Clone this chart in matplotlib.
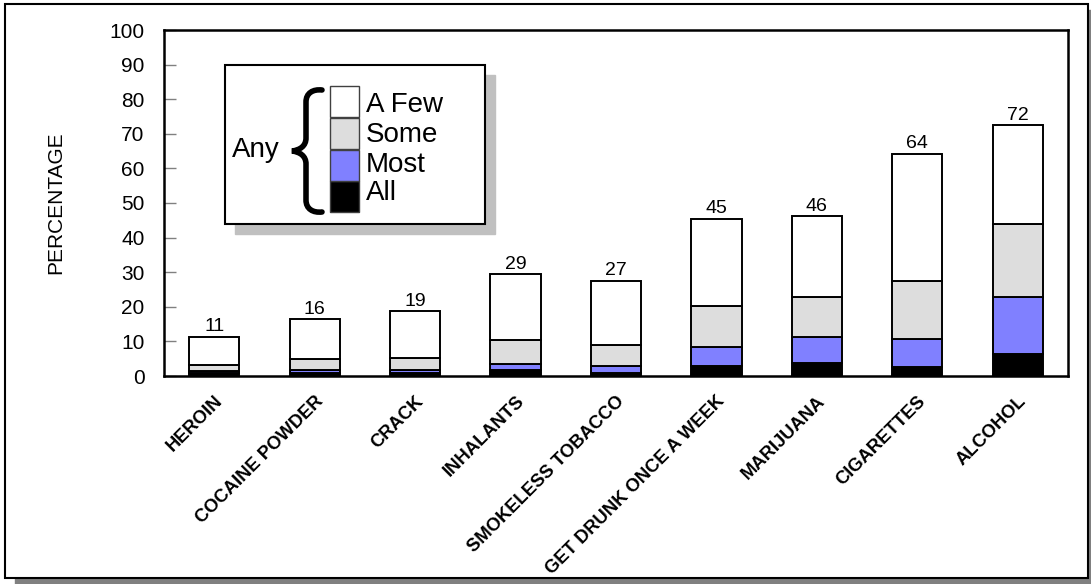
import matplotlib.pyplot as plt
from matplotlib.patches import Rectangle, PathPatch
from matplotlib.path import Path
import numpy as np

plt.rcParams['font.family'] = ['Liberation Sans', 'DejaVu Sans']

categories = ['HEROIN', 'COCAINE POWDER', 'CRACK', 'INHALANTS',
              'SMOKELESS TOBACCO', 'GET DRUNK ONCE A WEEK', 'MARIJUANA',
              'CIGARETTES', 'ALCOHOL']
all_vals = [0.9, 0.9, 1.0, 1.7, 1.0, 2.9, 3.8, 2.5, 6.4]
most_vals = [0.6, 0.8, 0.6, 1.9, 1.9, 5.6, 7.6, 8.1, 16.3]
some_vals = [1.8, 3.1, 3.5, 6.8, 6.0, 11.6, 11.3, 16.9, 21.1]
few_vals = [8.1, 11.6, 13.7, 19.0, 18.6, 25.4, 23.5, 36.8, 28.7]
total_labels = [11, 16, 19, 29, 27, 45, 46, 64, 72]
segment_names = ['All', 'Most', 'Some', 'A Few']
segment_colors = ['black', '#8080ff', '#dddddd', 'white']
y_ticks = list(range(0, 101, 10))

W, H = 1091, 584
fig = plt.figure(figsize=(W / 100, H / 100), dpi=100)

# outer frame with its shadow
bg = fig.add_axes([0, 0, 1, 1])
bg.set_xlim(0, W)
bg.set_ylim(H, 0)
bg.axis('off')
bg.add_patch(Rectangle((15, 10), W - 15, H - 10, color='#808080'))
bg.add_patch(Rectangle((5, 4), 1083, 574, facecolor='white',
                       edgecolor='black', lw=1.5))

ax = fig.add_axes([164 / W, 1 - 376 / H, (1068 - 164) / W, (376 - 30) / H])
x = np.arange(len(categories))
bottom = np.zeros(len(categories))
for vals, color in zip([all_vals, most_vals, some_vals, few_vals],
                       segment_colors):
    ax.bar(x, vals, 0.5, bottom=bottom, color=color, edgecolor='black',
           linewidth=1.4, zorder=3)
    bottom += np.array(vals)

for xi, top, lab in zip(x, bottom, total_labels):
    ax.annotate(str(lab), (xi, top), xytext=(0, 1),
                textcoords='offset points', ha='center', va='bottom',
                fontsize=14)

ax.set_xlim(-0.5, len(categories) - 0.5)
ax.set_ylim(0, 100)
ax.set_yticks(y_ticks)
ax.tick_params(axis='y', direction='in', length=8.6, width=1,
               color='#808080', pad=14, labelsize=15)
ax.tick_params(axis='x', length=0, pad=12)
ax.set_xticks(x)
ax.set_xticklabels(categories, rotation=45, ha='right', va='top',
                   rotation_mode='anchor', fontsize=13.2, fontweight='bold')
for s in ax.spines.values():
    s.set_linewidth(1.8)

fig.text(55.5 / W, 1 - 203 / H, 'PERCENTAGE', rotation=90, ha='center',
         va='center', fontsize=15)

# legend box drawn on top
ov = fig.add_axes([0, 0, 1, 1])
ov.set_xlim(0, W)
ov.set_ylim(H, 0)
ov.axis('off')
ov.add_patch(Rectangle((235, 75), 260, 159, color='#c0c0c0'))
ov.add_patch(Rectangle((225, 65), 260, 159, facecolor='white',
                       edgecolor='black', lw=1.5))
row_tops = [181, 150, 118, 86]
baselines = [200, 172, 142, 112]
for name, color, top, base in zip(segment_names, segment_colors,
                                  row_tops, baselines):
    ov.add_patch(Rectangle((330, top), 29, 31, facecolor=color,
                           edgecolor='#404040', lw=1))
    ov.text(366, base, name, va='baseline', ha='left', fontsize=20)
ov.text(232, 157, 'Any', va='baseline', ha='left', fontsize=20)

# curly brace
verts = [(322, 90), (313, 89), (306, 93), (306, 102),
         (306, 138),
         (306, 146), (300, 150), (292, 151),
         (300, 152), (306, 156), (306, 164),
         (306, 200),
         (306, 209), (313, 213), (322, 212)]
codes = [Path.MOVETO, Path.CURVE4, Path.CURVE4, Path.CURVE4,
         Path.LINETO,
         Path.CURVE4, Path.CURVE4, Path.CURVE4,
         Path.CURVE4, Path.CURVE4, Path.CURVE4,
         Path.LINETO,
         Path.CURVE4, Path.CURVE4, Path.CURVE4]
ov.add_patch(PathPatch(Path(verts, codes), facecolor='none',
                       edgecolor='black', lw=4, capstyle='round'))

fig.savefig('out.png', dpi=100)
